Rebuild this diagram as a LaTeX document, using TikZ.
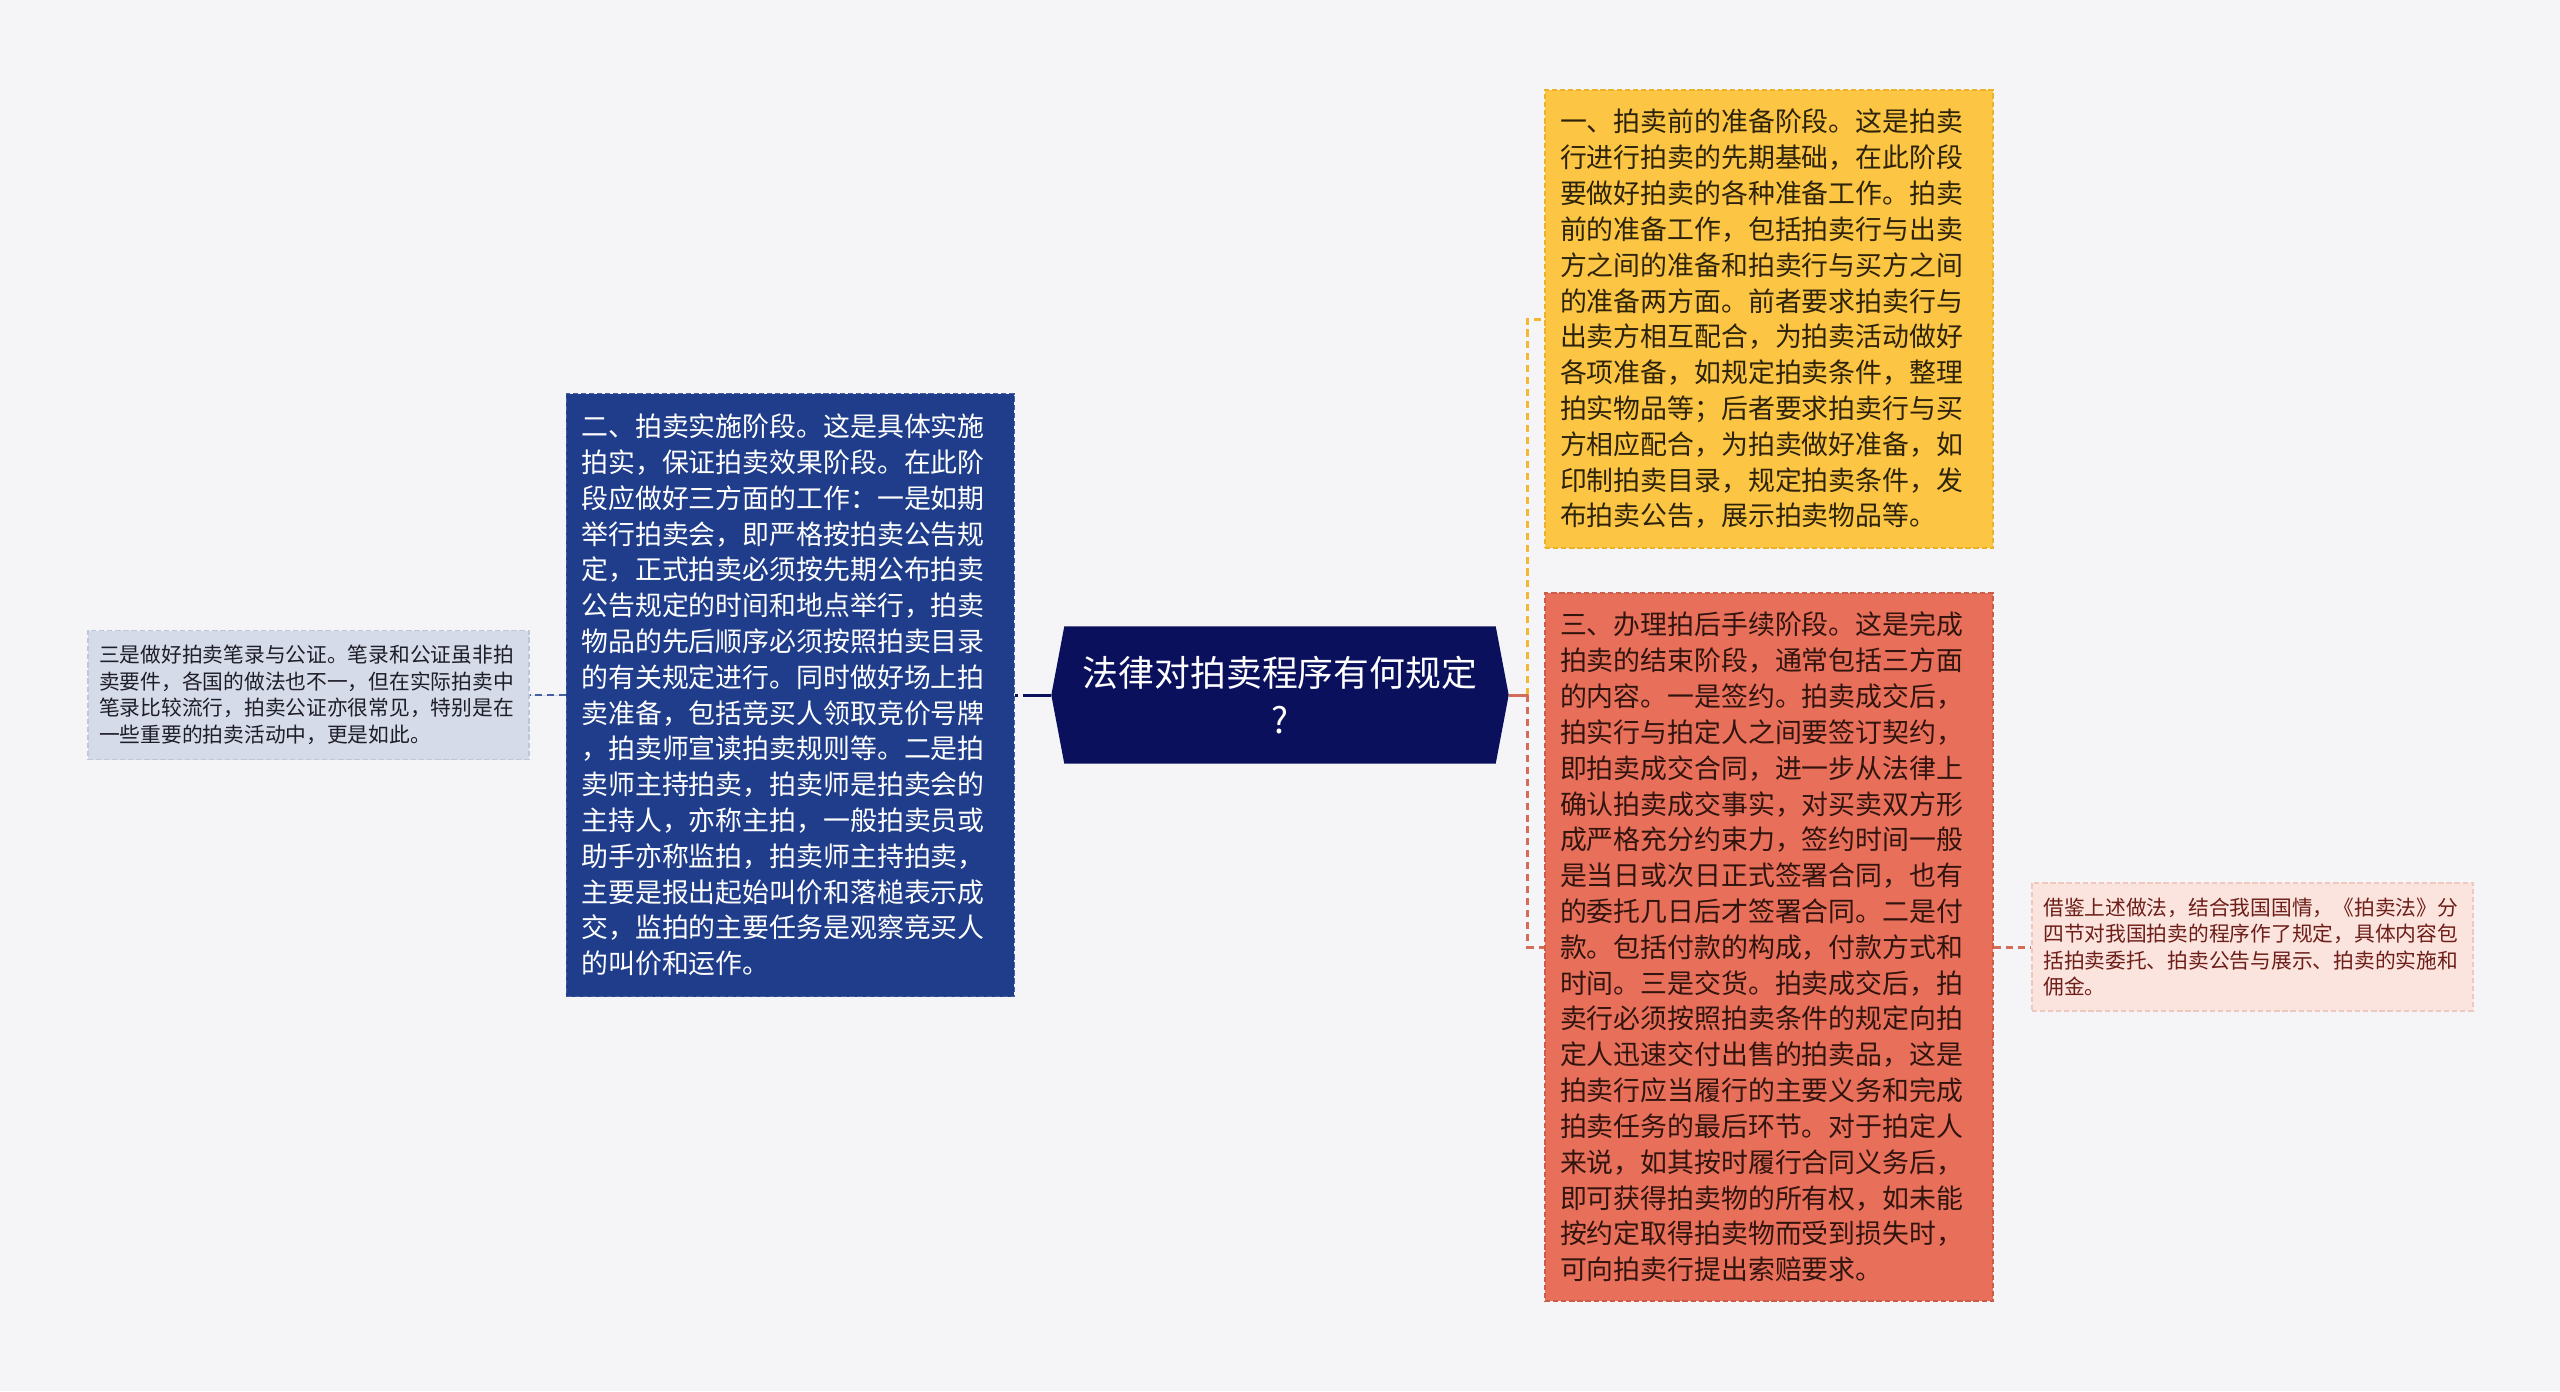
\documentclass[tikz,border=0pt]{standalone}
\usepackage{fontspec}
\setmainfont{Noto Sans CJK SC}
\usetikzlibrary{positioning}

\definecolor{sfondo}{RGB}{245,245,247}
\definecolor{scuro}{RGB}{11,16,92}
\definecolor{blu}{RGB}{31,61,138}
\definecolor{bluB}{RGB}{70,95,160}
\definecolor{giallo}{RGB}{252,198,68}
\definecolor{gialloB}{RGB}{236,178,40}
\definecolor{rosso}{RGB}{232,112,90}
\definecolor{rossoB}{RGB}{205,92,72}
\definecolor{lilla}{RGB}{214,219,234}
\definecolor{lillaB}{RGB}{190,198,220}
\definecolor{rosa}{RGB}{251,228,222}
\definecolor{rosaB}{RGB}{238,200,190}
\definecolor{testoG}{RGB}{45,35,10}
\definecolor{testoR}{RGB}{50,20,15}
\definecolor{testoN}{RGB}{30,30,40}
\definecolor{testoP}{RGB}{110,30,25}
\definecolor{lineaG}{RGB}{246,196,70}
\definecolor{lineaR}{RGB}{212,108,88}

\begin{document}
\begin{tikzpicture}[align=left,node distance=3.6mm,
centrale/.style={minimum width=4.56cm,minimum height=1.36cm,inner sep=0pt},
centraleT/.style={align=center,text=white,inner sep=0pt,font=\fontsize{10.2}{13.6}\selectfont},
testo/.style={line width=0.5pt,dash pattern=on 1.5pt off 0.8pt,text width=4.18cm,inner xsep=1.5mm,inner ysep=0pt,minimum width=4.48cm,font=\fontsize{7.65}{10.19}\selectfont},
nota/.style={line width=0.5pt,dash pattern=on 1.5pt off 0.8pt,text width=4.18cm,inner xsep=1.15mm,inner ysep=0pt,minimum width=4.41cm,font=\fontsize{5.9}{7.55}\selectfont},
giallo/.style={testo,fill=giallo,draw=gialloB,text=testoG},
rosso/.style={testo,fill=rosso,draw=rossoB,text=testoR},
blu/.style={testo,fill=blu,draw=bluB,text=white},
link/.style={line width=0.85pt},
tratt/.style={dash pattern=on 2pt off 1.4pt}
]
\useasboundingbox (0,0) rectangle (25.6,-13.91);
\fill[sfondo] (0,0) rectangle (25.6,-13.91);
%--
\node[centrale](c) at (12.80,-6.95){};
\fill[scuro] (c.west) -- ([xshift=1.3mm]c.north west) -- ([xshift=-1.3mm]c.north east) -- (c.east) -- ([xshift=-1.3mm]c.south east) -- ([xshift=1.3mm]c.south west) -- cycle;
\node[centraleT](ct) at (c.center){法律对拍卖程序有何规定\\?};
%--
\node[blu,minimum height=6.03cm,left = of c](b){二、拍卖实施阶段。这是具体实施\\拍实，保证拍卖效果阶段。在此阶\\段应做好三方面的工作：一是如期\\举行拍卖会，即严格按拍卖公告规\\定，正式拍卖必须按先期公布拍卖\\公告规定的时间和地点举行，拍卖\\物品的先后顺序必须按照拍卖目录\\的有关规定进行。同时做好场上拍\\卖准备，包括竞买人领取竞价号牌\\，拍卖师宣读拍卖规则等。二是拍\\卖师主持拍卖，拍卖师是拍卖会的\\主持人，亦称主拍，一般拍卖员或\\助手亦称监拍，拍卖师主持拍卖，\\主要是报出起始叫价和落槌表示成\\交，监拍的主要任务是观察竞买人\\的叫价和运作。};
\draw[link,scuro,dash pattern=on 8pt off 1.4pt] (c.west) -- (b.east);
%--
\node[nota,fill=lilla,draw=lillaB,text=testoN,minimum height=1.29cm,left = of b](nb){三是做好拍卖笔录与公证。笔录和公证虽非拍\\卖要件，各国的做法也不一，但在实际拍卖中\\笔录比较流行，拍卖公证亦很常见，特别是在\\一些重要的拍卖活动中，更是如此。};
\draw[link,blu,tratt] (b.west) -- (nb.east);
%----
\node[giallo,minimum height=4.58cm](g) at (17.69,-3.19){一、拍卖前的准备阶段。这是拍卖\\行进行拍卖的先期基础，在此阶段\\要做好拍卖的各种准备工作。拍卖\\前的准备工作，包括拍卖行与出卖\\方之间的准备和拍卖行与买方之间\\的准备两方面。前者要求拍卖行与\\出卖方相互配合，为拍卖活动做好\\各项准备，如规定拍卖条件，整理\\拍实物品等；后者要求拍卖行与买\\方相应配合，为拍卖做好准备，如\\印制拍卖目录，规定拍卖条件，发\\布拍卖公告，展示拍卖物品等。};
%--
\node[rosso,minimum height=7.08cm](r) at (17.69,-9.47){三、办理拍后手续阶段。这是完成\\拍卖的结束阶段，通常包括三方面\\的内容。一是签约。拍卖成交后，\\拍实行与拍定人之间要签订契约，\\即拍卖成交合同，进一步从法律上\\确认拍卖成交事实，对买卖双方形\\成严格充分约束力，签约时间一般\\是当日或次日正式签署合同，也有\\的委托几日后才签署合同。二是付\\款。包括付款的构成，付款方式和\\时间。三是交货。拍卖成交后，拍\\卖行必须按照拍卖条件的规定向拍\\定人迅速交付出售的拍卖品，这是\\拍卖行应当履行的主要义务和完成\\拍卖任务的最后环节。对于拍定人\\来说，如其按时履行合同义务后，\\即可获得拍卖物的所有权，如未能\\按约定取得拍卖物而受到损失时，\\可向拍卖行提出索赔要求。};
%--
\coordinate[right=1.9mm of c.east](k);
\draw[link,gialloB!70!giallo,tratt] (k) |- (g.west);
\draw[link,lineaR,tratt] (k) |- (r.west);
\draw[link,lineaR] (c.east) -- (k);
%--
\node[nota,fill=rosa,draw=rosaB,text=testoP,minimum height=1.28cm,right = 3.7mm of r](nr){借鉴上述做法，结合我国国情，《拍卖法》分\\四节对我国拍卖的程序作了规定，具体内容包\\括拍卖委托、拍卖公告与展示、拍卖的实施和\\佣金。};
\draw[link,lineaR,tratt] (r.east) -- (nr.west);
\end{tikzpicture}
\end{document}
